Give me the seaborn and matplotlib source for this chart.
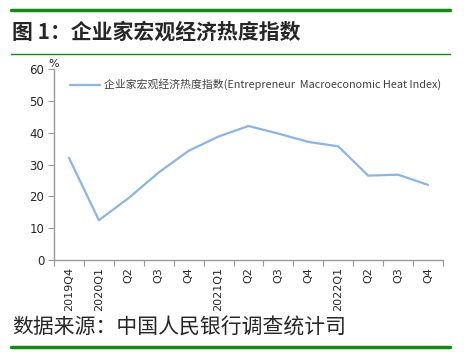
import numpy as np
import pandas as pd
import matplotlib
matplotlib.use("Agg")
import matplotlib.pyplot as plt
import seaborn as sns
from matplotlib.lines import Line2D

# -------------------------
# DATA
# -------------------------
quarters = ["2019Q4", "2020Q1", "Q2", "Q3", "Q4", "2021Q1", "Q2", "Q3", "Q4",
            "2022Q1", "Q2", "Q3", "Q4"]
heat_index = [32.1, 12.5, 19.5, 27.5, 34.3, 38.8, 42.1, 39.7, 37.1, 35.7, 26.5, 26.8, 23.6]
y_ticks = [0, 10, 20, 30, 40, 50, 60]

series_name = "企业家宏观经济热度指数(Entrepreneur  Macroeconomic Heat Index)"
title = "图 1：企业家宏观经济热度指数"
source = "数据来源：中国人民银行调查统计司"

df = pd.DataFrame({"pos": np.arange(len(quarters)), "value": heat_index})

# -------------------------
# Style
# -------------------------
sns.set_style("white")
plt.rcParams["font.family"] = ["Noto Sans CJK SC", "DejaVu Sans"]

W, H = 466, 360
fig = plt.figure(figsize=(W / 100, H / 100), dpi=100)

# plot area: x 54..443, y 69..260 (pixels)
ax = fig.add_axes([54 / W, 1 - 260 / H, (443 - 54) / W, (260 - 69) / H])

line_color = "#8DB4E2"
sns.lineplot(data=df, x="pos", y="value", ax=ax, color=line_color, linewidth=1.6)

ax.set_xlim(-0.5, len(quarters) - 0.5)
ax.set_ylim(0, 60)
ax.set_yticks(y_ticks)
ax.set_yticklabels([str(t) for t in y_ticks], fontsize=8.5, family=["DejaVu Sans"])

# category ticks at boundaries, labels at centers
ax.set_xticks(np.arange(len(quarters) + 1) - 0.5)
ax.set_xticklabels([])
ax.set_xticks(np.arange(len(quarters)), minor=True)
ax.set_xticklabels(quarters, minor=True, rotation=90, fontsize=8, family=["DejaVu Sans"])
ax.tick_params(axis="x", which="major", length=4, direction="out", color="#999999", bottom=True)
ax.tick_params(axis="x", which="minor", length=0, pad=5)
ax.tick_params(axis="y", length=4, direction="out", color="#999999", left=True, pad=3)
ax.set_xlabel("")
ax.set_ylabel("")

for s in ["top", "right"]:
    ax.spines[s].set_visible(False)
for s in ["left", "bottom"]:
    ax.spines[s].set_color("#999999")
    ax.spines[s].set_linewidth(1.0)

ax.text(0.0, 1.0, "%", transform=ax.transAxes, fontsize=8, va="bottom", ha="center",
        family=["DejaVu Sans"])

handle = Line2D([0], [0], color=line_color, linewidth=1.6)
leg = ax.legend([handle], [series_name], loc="upper left", bbox_to_anchor=(0.015, 1.0),
                frameon=False, fontsize=7.8, handlelength=2.8, handletextpad=0.4)
for t in leg.get_texts():
    t.set_color("#404040")

# -------------------------
# Title, source, green rules
# -------------------------
green = "#138A13"
fig.add_artist(Line2D([11 / W, 450 / W], [1 - 9.5 / H, 1 - 9.5 / H], color=green, linewidth=2.5))
fig.add_artist(Line2D([11 / W, 450 / W], [1 - 54 / H, 1 - 54 / H], color=green, linewidth=1.0))
fig.add_artist(Line2D([11 / W, 450 / W], [1 - 347 / H, 1 - 347 / H], color=green, linewidth=2.5))

fig.text(12 / W, 1 - 32 / H, title, fontsize=15, fontweight="bold", va="center", ha="left")
fig.text(12 / W, 1 - 328 / H, source, fontsize=15, va="center", ha="left")

fig.savefig("out.png", dpi=100)
plt.close(fig)
